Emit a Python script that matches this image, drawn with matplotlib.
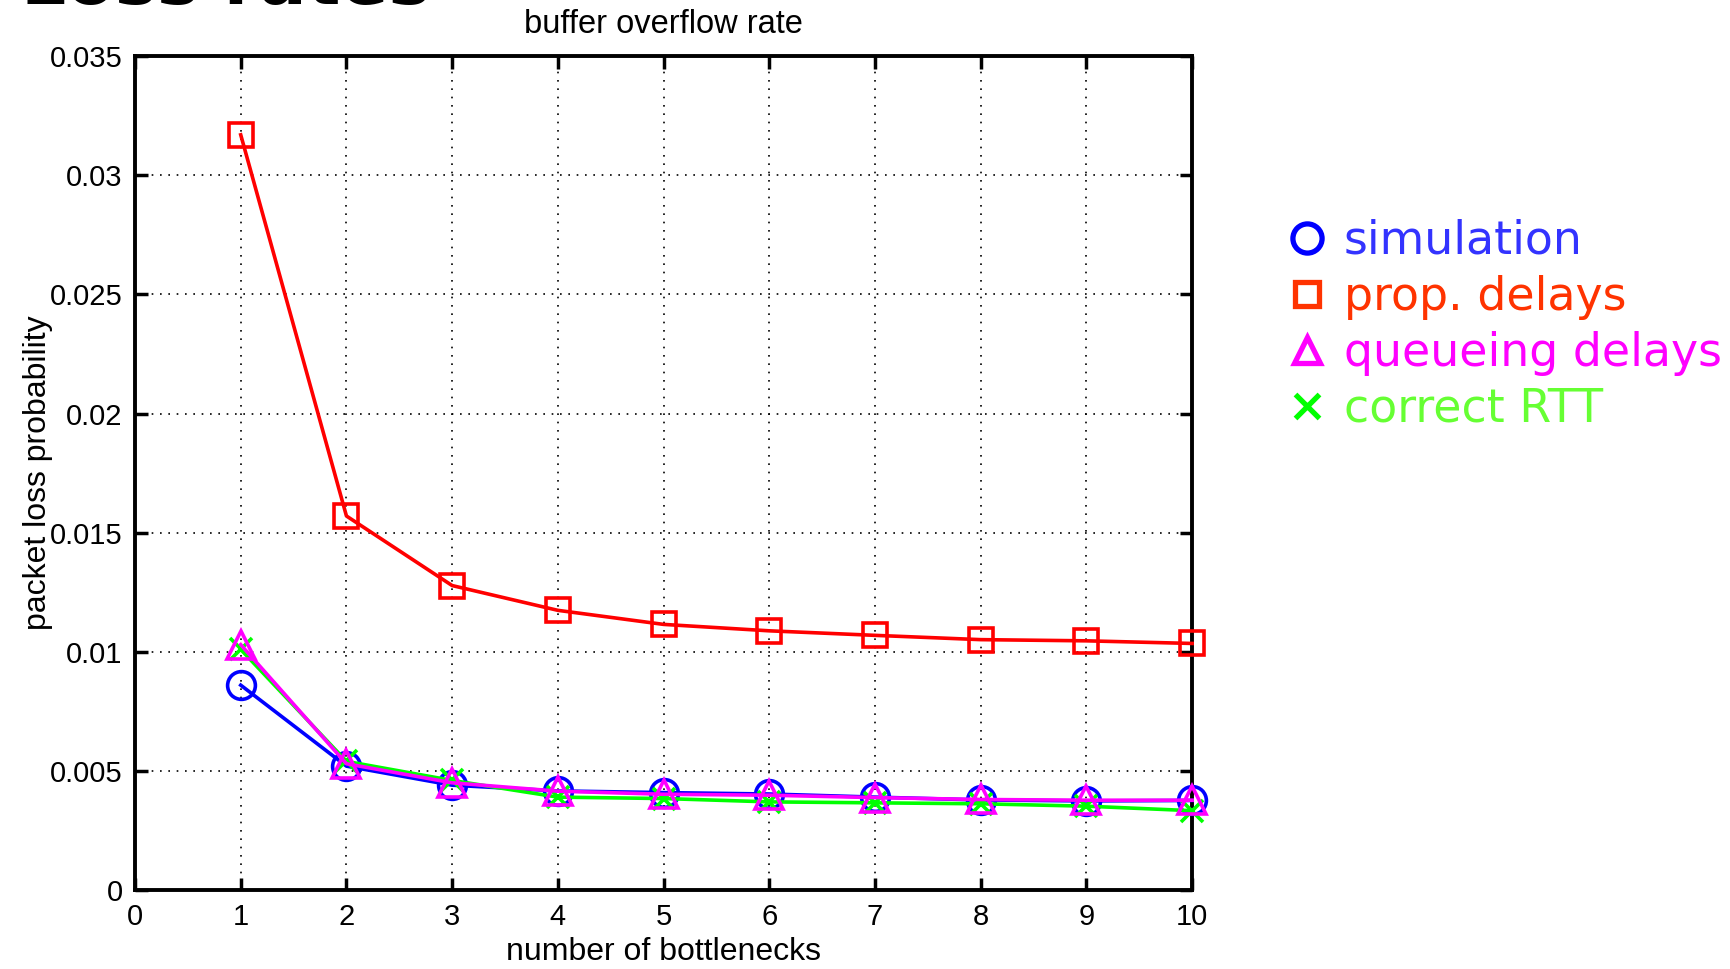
import matplotlib
matplotlib.use("Agg")
import matplotlib.pyplot as plt
from matplotlib.lines import Line2D

# ---- data ----
bottlenecks = [1, 2, 3, 4, 5, 6, 7, 8, 9, 10]
simulation = [0.0086, 0.0052, 0.0044, 0.00416, 0.00409, 0.00403, 0.0039, 0.00378, 0.00374, 0.00376]
prop_delays = [0.0317, 0.0157, 0.01278, 0.01174, 0.01115, 0.01088, 0.01069, 0.01051, 0.01046, 0.01035]
queueing_delays = [0.0103, 0.0053, 0.0045, 0.00415, 0.00402, 0.00398, 0.00388, 0.0038, 0.00377, 0.00377]
correct_rtt = [0.0101, 0.0054, 0.0046, 0.0039, 0.00384, 0.0037, 0.00366, 0.00362, 0.00352, 0.00333]
series_labels = ["simulation", "prop. delays", "queueing delays", "correct RTT"]
xticks = list(range(0, 11))
yticks = [0, 0.005, 0.01, 0.015, 0.02, 0.025, 0.03, 0.035]
ytick_labels = ["0", "0.005", "0.01", "0.015", "0.02", "0.025", "0.03", "0.035"]

plt.rcParams['font.family'] = ['Liberation Sans', 'DejaVu Sans']

fig = plt.figure(figsize=(17.31, 9.69), dpi=100)
ax = fig.add_axes([0.078, 0.0815, 0.6107, 0.8605])

lw = 2.6
mew = 2.6
ax.plot(bottlenecks, simulation, color='#0000ff', lw=lw, marker='o', ms=20,
        mfc='none', mec='#0000ff', mew=mew, clip_on=False, zorder=3)
ax.plot(bottlenecks, prop_delays, color='#ff0000', lw=lw, marker='s', ms=17,
        mfc='none', mec='#ff0000', mew=mew, clip_on=False, zorder=3)
ax.plot(bottlenecks, correct_rtt, color='#00ff00', lw=lw, marker='x', ms=16,
        mec='#00ff00', mew=mew, clip_on=False, zorder=3)
ax.plot(bottlenecks, queueing_delays, color='#ff00ff', lw=lw, marker='^', ms=20,
        mfc='none', mec='#ff00ff', mew=mew, clip_on=False, zorder=4)

ax.set_xlim(0, 10)
ax.set_ylim(0, 0.035)
ax.set_xticks(xticks)
ax.set_yticks(yticks)
ax.set_yticklabels(ytick_labels)
ax.tick_params(direction='in', length=9, width=2.5, labelsize=21,
               top=True, right=True, pad=9)
for s in ax.spines.values():
    s.set_linewidth(2.8)
ax.grid(True, linestyle=(0, (1, 4)), color='black', linewidth=1.2)

ax.set_title("buffer overflow rate", fontsize=23.5, pad=17)
ax.set_xlabel("number of bottlenecks", fontsize=23, labelpad=5)
ax.set_ylabel("packet loss probability", fontsize=23, labelpad=-2)

# legend
handles = [
    Line2D([], [], ls='none', marker='o', ms=21, mfc='none', mec='#0000ff', mew=3.8),
    Line2D([], [], ls='none', marker='s', ms=17, mfc='none', mec='#ff3300', mew=3.8),
    Line2D([], [], ls='none', marker='^', ms=19, mfc='none', mec='#ff00ff', mew=3.8),
    Line2D([], [], ls='none', marker='x', ms=17, mec='#00ff00', mew=3.8),
]
leg = fig.legend(handles, series_labels, loc='upper left',
                 bbox_to_anchor=(0.742, 0.774), frameon=False,
                 prop={'family': 'DejaVu Sans', 'size': 33},
                 labelcolor=['#3333ff', '#ff3300', '#ff00ff', '#66ff33'],
                 handlelength=1.0, handletextpad=0.3, labelspacing=0.24,
                 borderaxespad=0, borderpad=0)

# clipped slide heading at very top-left (cut off at the top edge, as in the source)
fig.text(0.012, 0.996, "Loss rates", fontsize=51, fontweight='bold',
         family='DejaVu Sans', va='baseline', ha='left')

fig.savefig("out.png", dpi=100)
